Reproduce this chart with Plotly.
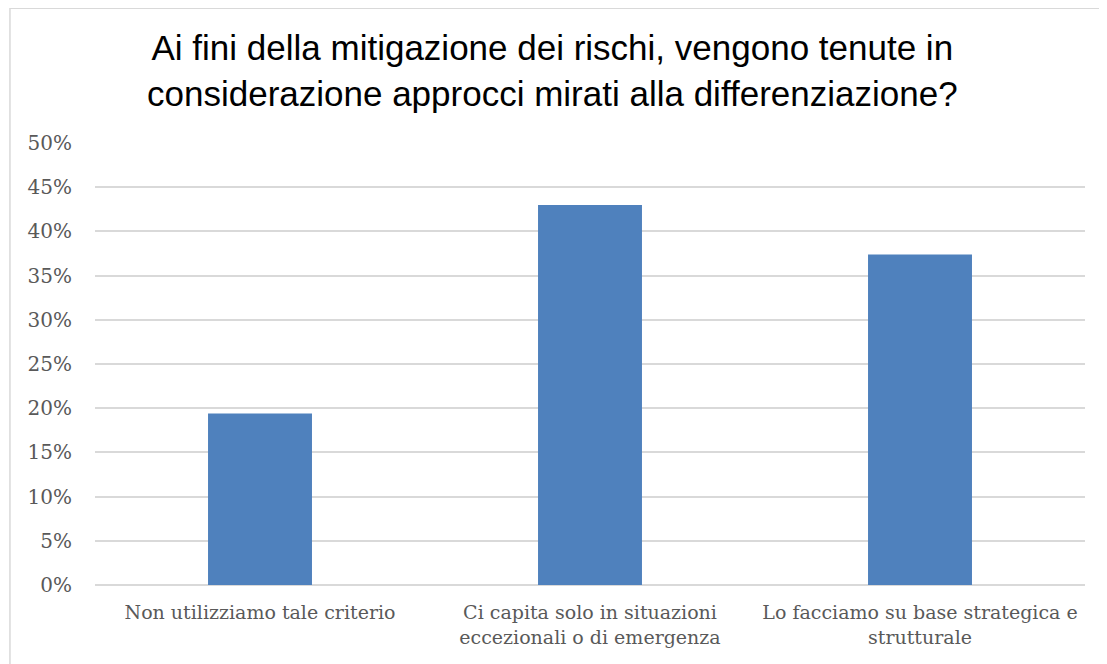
import plotly.graph_objects as go

# ── Data ─────────────────────────────────────────────────────────────────────
CATEGORIES = [
    'Non utilizziamo tale criterio',
    'Ci capita solo in situazioni<br>eccezionali o di emergenza',
    'Lo facciamo su base strategica e<br>strutturale',
]
SHARES = [0.194, 0.430, 0.374]
TICK_VALUES = [0, 0.05, 0.10, 0.15, 0.20, 0.25, 0.30, 0.35, 0.40, 0.45, 0.50]
TITLE = ('Ai fini della mitigazione dei rischi, vengono tenute in<br>'
         'considerazione approcci mirati alla differenziazione?')

# ── Style ────────────────────────────────────────────────────────────────────
BAR = '#4f81bd'
GRID = '#d9d9d9'
TICK = '#595959'
SERIF = 'DejaVu Serif, Liberation Serif, serif'
SANS = 'Liberation Sans, Arial, sans-serif'

fig = go.Figure(go.Bar(
    x=CATEGORIES,
    y=SHARES,
    width=0.315,
    marker=dict(color=BAR, line=dict(width=0)),
    hovertemplate='%{x}: %{y:.0%}<extra></extra>',
))

# page body has an 8px margin, so the figure is sized to fit inside it
fig.update_layout(
    width=1099, height=656,
    paper_bgcolor='white', plot_bgcolor='white',
    margin=dict(l=87, r=22, t=135, b=79),
    showlegend=False,
)

fig.add_annotation(
    text=TITLE, xref='paper', yref='paper', x=0.462, y=1.163,
    xanchor='center', yanchor='middle', showarrow=False,
    font=dict(family=SANS, size=35, color='black'),
)

fig.update_xaxes(showgrid=False, zeroline=False, showline=False, ticks='',
                 ticklabelstandoff=14,
                 tickfont=dict(family=SERIF, size=19, color=TICK))
fig.update_yaxes(range=[0, 0.5], tickvals=TICK_VALUES, tickformat='.0%',
                 showgrid=True, gridcolor=GRID, gridwidth=1.5,
                 zeroline=True, zerolinecolor=GRID, zerolinewidth=1.5,
                 showline=False, ticks='', ticklabelstandoff=22,
                 tickfont=dict(family=SERIF, size=20, color=TICK))

# chart frame (extends past the right and bottom edges)
fig.add_shape(type='rect', xref='paper', yref='paper',
              x0=-0.0859, x1=1.03, y0=-0.2, y1=1.305,
              line=dict(color=GRID, width=1.5), layer='below')

fig.write_html('out.html')
